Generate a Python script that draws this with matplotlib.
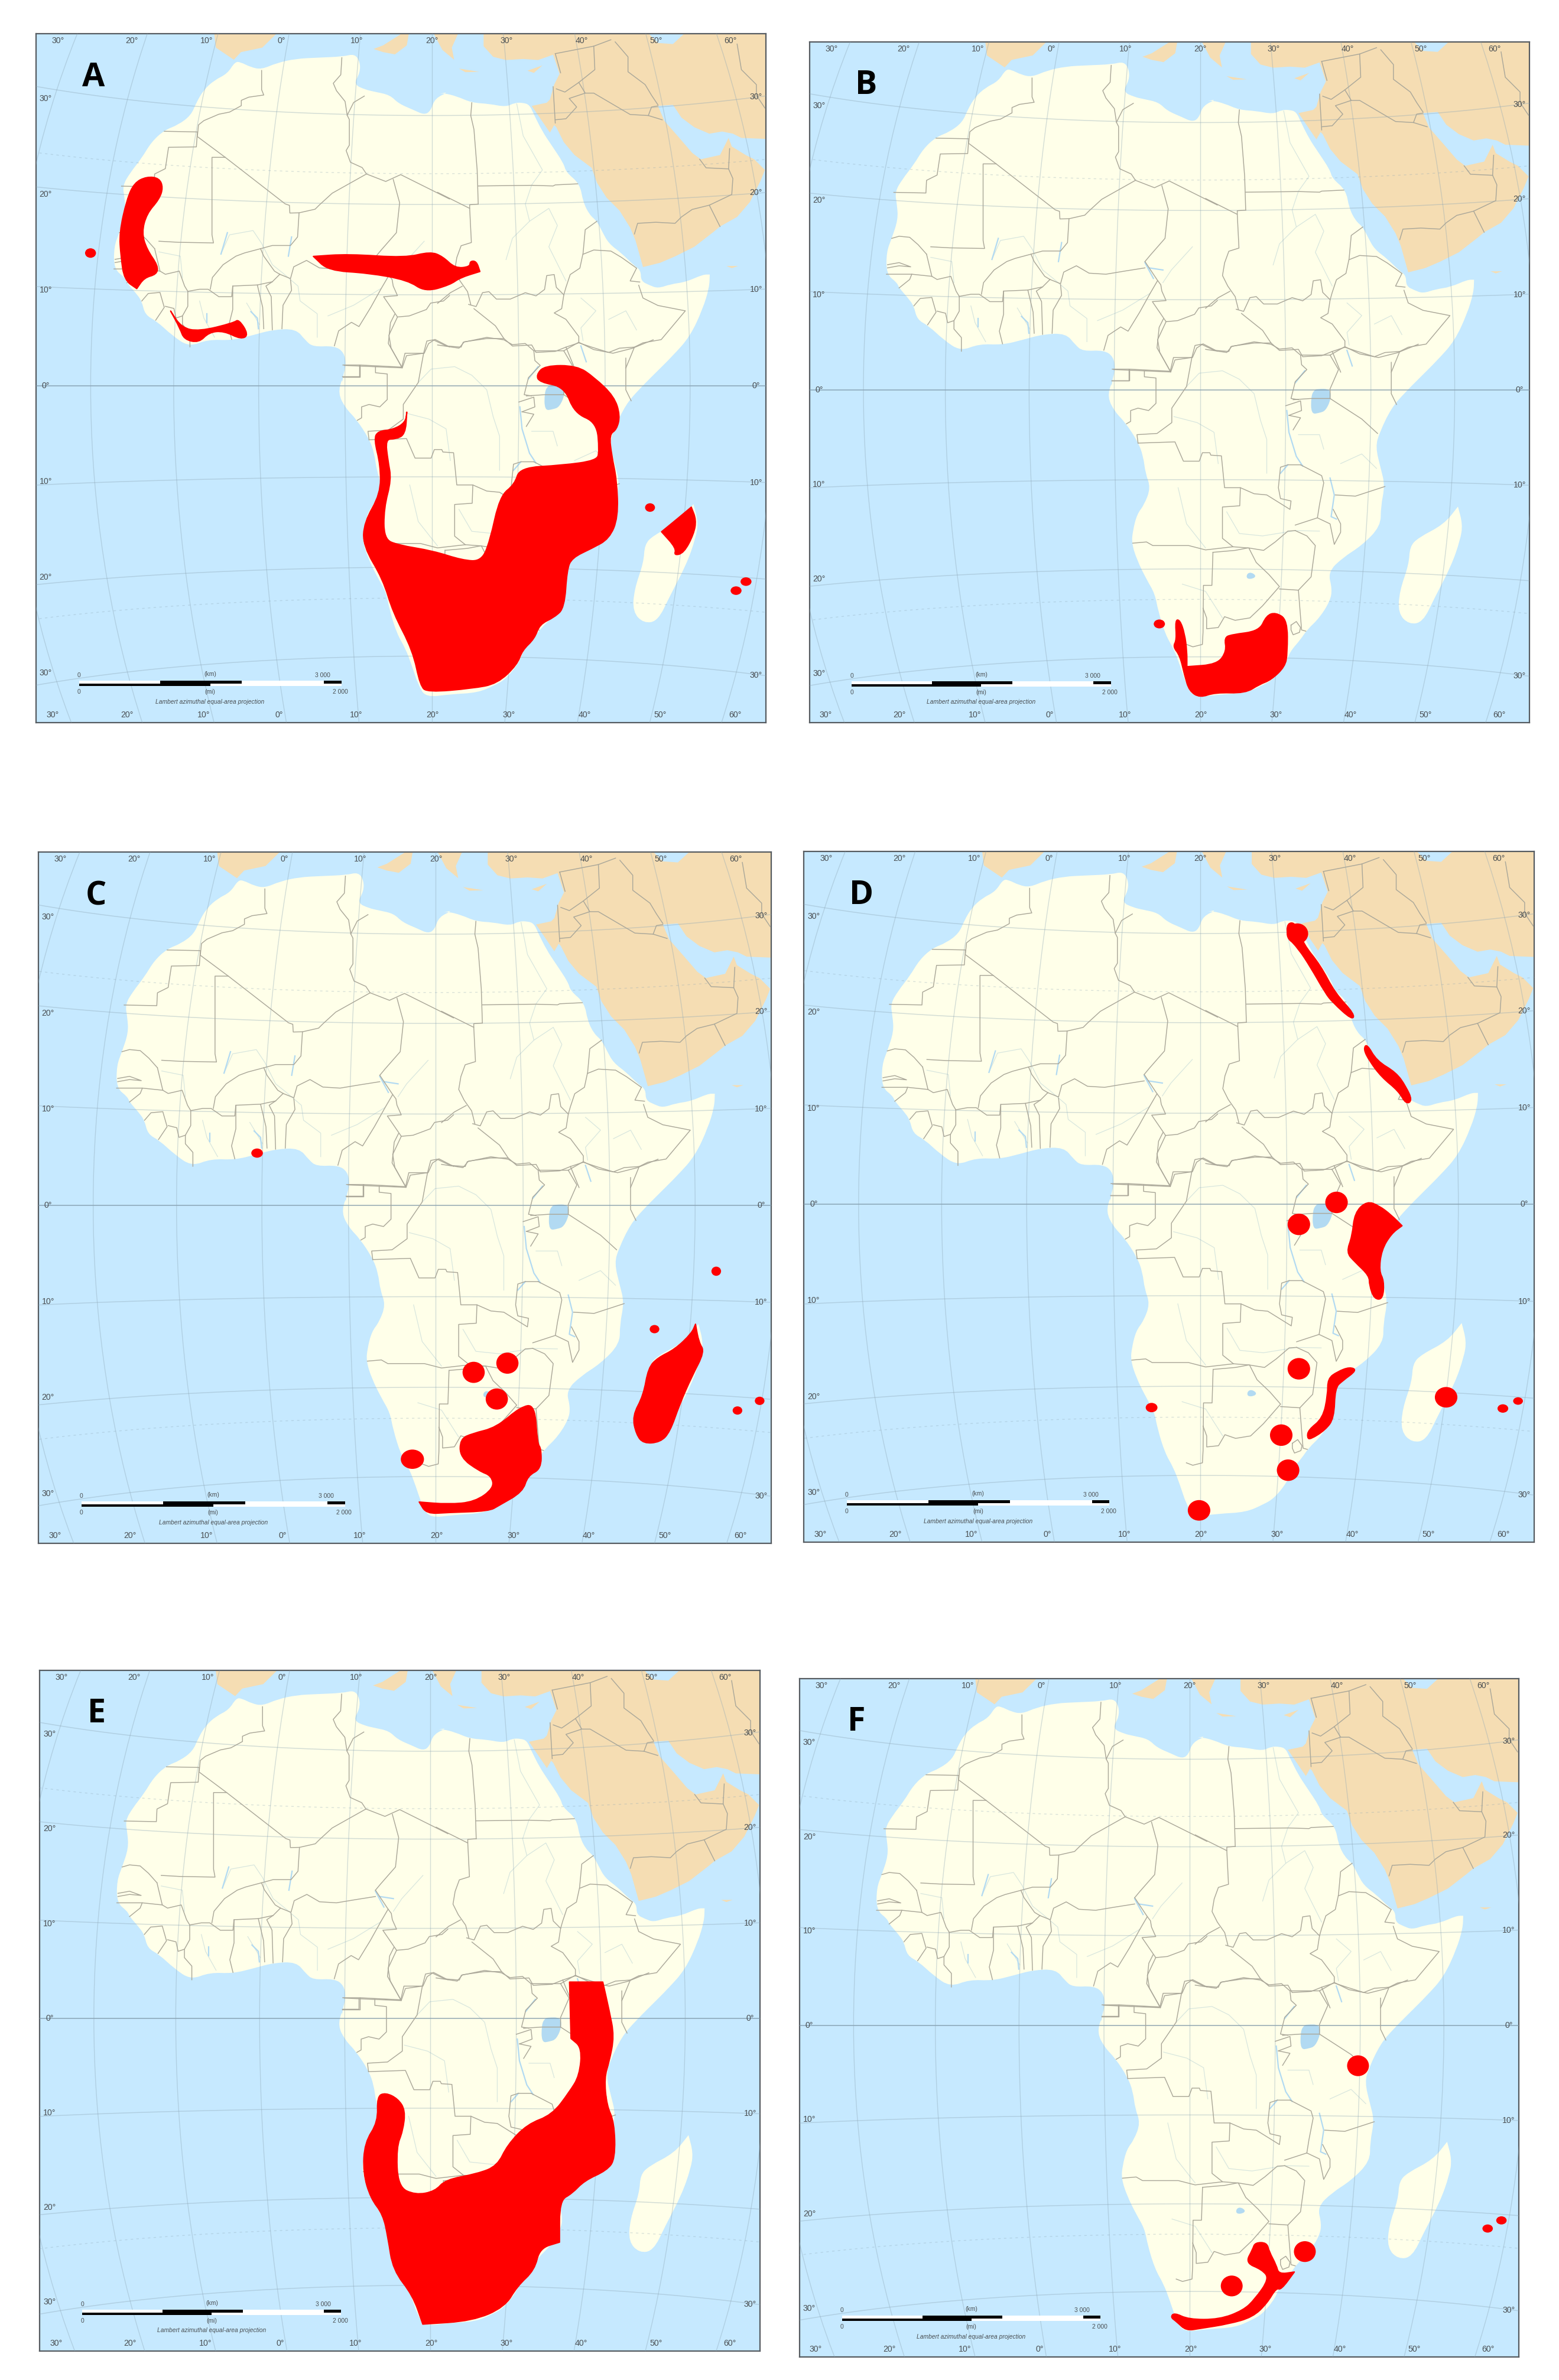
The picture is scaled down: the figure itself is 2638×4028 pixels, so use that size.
import numpy as np
import matplotlib
matplotlib.use("Agg")
import matplotlib.pyplot as plt
from matplotlib.patches import Polygon, Ellipse, Rectangle, PathPatch
from matplotlib.path import Path

W, H = 2638, 4028
SEA, LAND, ASIA, RED = "#C6E9FF", "#FFFFE9", "#F5DDB3", "#FF0000"
BORDER, RIVER, LAKE = "#ABA89A", "#D8E6DE", "#B2DAF2"

# affine factors of the three traced map sheets onto the base map units
WEST = (177, 0.4516, 53.1, 0.4746)
EAST = (860, 0.4516, 13.3, 0.4746)
SOUTH = (607, 0.4516, 637.8, 0.5424)
BASE_FRAME = (12, 1553, 14, 1546)

coast_west = [(1568,190),(1500,220),(1480,280),(1450,298),(1400,275),(1330,245),(1290,205),(1220,190),(1175,180),(1120,155),(1150,100),(1150,50),(1125,12),(1070,25),(950,30),(850,35),(760,55),(690,85),(640,75),(590,50),(565,50),(530,105),(470,135),(420,180),(385,240),(360,300),(300,345),(235,370),(175,425),(130,500),(75,570),(40,630),(50,690),(55,760),(25,850),(0,915),(0,1020),(50,1060),(60,1085),(100,1130),(130,1170),(145,1235),(200,1265),(270,1330),(350,1385),(440,1350),(550,1355),(650,1330),(740,1305),(850,1300),(895,1355),(930,1385),(1030,1380),(1075,1410),(1085,1470),(1068,1530),(1068,1568)]
coast_south = [(115,260),(95,325),(130,385),(180,430),(240,510),(265,570),(275,640),(300,700),(270,770),(235,810),(215,880),(210,930),(235,1000),(280,1080),(320,1140),(335,1210),(370,1310),(410,1370),(440,1440),(470,1520),(505,1571),(620,1558),(748,1552),(830,1520),(880,1495),(940,1430),(960,1380),(1010,1330),(1040,1290),(1100,1240),(1150,1170),(1160,1120),(1140,1050),(1210,990),(1300,940),(1390,860),(1390,780),(1410,690),(1390,620),(1365,530),(1385,470),(1440,370),(1500,310),(1568,250)]
coast_east = [(1100,1510),(1180,1420),(1240,1290),(1270,1190),(1272,1130),(1272,1130),(1240,1130),(1160,1165),(1090,1175),(1030,1195),(990,1180),(950,1160),(950,1110),(915,1085),(860,1030),(800,985),(770,930),(745,880),(710,850),(680,790),(665,705),(600,650),(590,610),(530,520),(490,460),(450,380),(430,335),(400,325),(360,325),(320,345),(240,330),(160,325),(90,295),(30,280),(0,285)]
madagascar = [(1400,1060),(1400,1060),(1410,1100),(1405,1135),(1385,1195),(1350,1265),(1325,1320),(1295,1325),(1272,1300),(1275,1250),(1295,1190),(1297,1150),(1315,1130),(1370,1100)]

arabia = [(440,340),(525,465),(545,430),(555,440),(590,510),(640,570),(720,630),(745,700),(790,770),(850,830),(900,910),(925,970),(960,1095),(1040,1075),(1110,1045),(1200,1000),(1290,930),(1320,905),(1400,860),(1460,790),(1510,690),(1530,640),(1480,590),(1440,570),(1375,530),(1360,490),(1340,530),(1320,570),(1230,590),(1190,560),(1130,490),(1060,410),(1030,340),(1100,335),(1140,395),(1200,440),(1270,470),(1330,460),(1380,470),(1420,490),(1545,495),(1545,-5),(1160,-5),(1100,50),(1030,45),(980,-5),(215,-5),(215,60),(260,110),(320,125),(400,120),(470,125),(540,100),(550,130),(570,190),(545,240),(525,310),(510,325)]
cyprus = [(420,175),(490,150),(450,185)]
crete = [(100,165),(195,180),(130,182)]
socotra = [(1350,1090),(1405,1090),(1375,1100)]
spain = [(388,10),(392,45),(430,72),(445,55),(490,45),(520,14),(525,10)]
italy = [(725,48),(745,40),(790,10),(800,10),(795,40),(770,60),(745,55)]
greece = [(850,10),(870,50),(895,72),(890,45),(905,10)]

borders_west = [
 [(690,90),(690,180),(700,205),(630,215),(595,230),(595,255),(540,285),(490,295),(420,325),(395,345),(390,395)],
 [(235,375),(390,378),(385,448),(255,450),(240,550),(190,575),(187,635),(35,632)],
 [(390,400),(520,497),(800,715),(820,722),(822,758),(865,757),(940,740),(960,720),(1020,665),(1180,575),(1270,610),(1340,578),(1568,692)],
 [(520,497),(458,497),(458,860),(465,898),(300,895),(210,890)],
 [(25,850),(60,840),(110,845),(150,880),(190,925)],
 [(1065,30),(1060,110),(1025,150),(1040,185),(1080,235),(1090,300),(1100,320),(1100,440),(1085,465),(1105,520),(1160,545),(1180,575)],
 [(1090,300),(1120,240),(1170,210)],
 [(865,757),(858,870),(825,910),(740,910),(685,925)],
 [(190,925),(215,1030),(240,1045),(305,1030),(330,1100),(345,1125)],
 [(345,1125),(400,1115),(440,1115),(490,1150),(550,1150),(555,1100),(670,1095),(740,1080),(775,1045)],
 [(450,1115),(460,1060),(510,1000),(570,960),(610,945),(685,925),(700,960),(750,1030),(775,1045)],
 [(0,1020),(120,1020),(215,1030)],
 [(5,975),(60,965),(115,985),(60,980),(5,990)],
 [(60,1085),(110,1045),(120,1020)],
 [(775,1045),(825,1065),(840,1010),(900,980),(960,1015),(1040,1020),(1130,1005),(1225,990)],
 [(825,1070),(830,1120),(790,1190),(785,1300)],
 [(740,1305),(735,1150),(710,1100),(740,1080)],
 [(670,1095),(695,1200),(700,1300)],
 [(555,1100),(555,1210),(535,1290),(550,1350)],
 [(345,1125),(345,1195),(320,1240),(320,1280),(355,1320),(355,1385)],
 [(130,1170),(160,1135),(215,1130),(235,1200),(195,1260)],
 [(240,1195),(280,1205),(290,1250),(320,1240)],
 [(1285,1050),(1250,1110),(1200,1200),(1145,1290),(1110,1270),(1050,1310),(1030,1380)],
 [(1225,960),(1285,1050),(1300,1070),(1305,1100),(1325,1145),(1260,1150),(1325,1245),(1285,1330),(1295,1390),(1345,1480)],
 [(1325,1245),(1380,1240),(1460,1210),(1480,1180),(1540,1170),(1568,1145)],
 [(1225,960),(1250,930),(1320,850),(1335,710),(1305,600)],
 [(1345,1480),(1150,1470),(1070,1470)],
 [(1150,1470),(1150,1525),(1068,1525)],
 [(1345,1480),(1360,1415),(1450,1415),(1470,1370),(1500,1350),(1568,1385)],
]
borders_east = [
 [(160,325),(155,385),(170,450),(185,640),(190,800)],
 [(190,715),(440,712),(540,715),(550,710),(655,705)],
 [(190,800),(150,803),(150,820),(0,745)],
 [(150,820),(158,980),(110,995),(90,1050),(80,1110),(105,1160),(140,1210),(155,1270)],
 [(0,1265),(60,1215),(115,1185)],
 [(145,1270),(180,1280),(210,1215),(240,1210),(275,1245),(340,1245),(410,1215),(460,1230),(500,1200),(510,1135),(545,1130),(555,1190),(590,1225)],
 [(745,880),(690,920),(680,1030),(665,1100),(620,1130),(600,1190),(590,1225),(580,1290),(545,1310),(600,1340),(660,1420),(660,1450)],
 [(680,1035),(730,1015),(810,1020),(860,1050),(930,1100)],
 [(930,1100),(900,1160),(945,1165)],
 [(940,1180),(960,1240),(1030,1275),(1158,1300),(1045,1435),(960,1450),(920,1470)],
 [(660,1450),(720,1470),(800,1495),(850,1475),(920,1470),(880,1568)],
 [(170,1290),(270,1370),(310,1430),(350,1465),(440,1460),(460,1495),(550,1490),(600,1470),(660,1450)],
 [(0,1460),(100,1475),(125,1445),(230,1430),(310,1430)],
 [(600,1470),(640,1568)],
 [(550,95),(730,60),(810,30)],
 [(730,60),(735,170),(660,230),(595,275),(555,260)],
 [(550,95),(575,185)],
 [(660,230),(690,280),(615,305),(650,345),(600,400),(550,405)],
 [(690,280),(730,280),(900,380),(985,385),(1000,345),(1030,340)],
 [(985,385),(1050,405)],
 [(830,40),(890,110),(890,180),(970,240),(1000,290),(1030,335)],
 [(1400,50),(1420,170),(1490,240),(1490,290),(1530,350)],
 [(1225,590),(1255,630),(1360,635),(1380,680),(1375,755),(1270,805),(1190,825),(1140,860),(1110,890),(1020,885),(935,890),(920,940)],
 [(1270,805),(1320,905)],
 [(1360,635),(1365,540)],
 [(540,250),(550,420)],
]
borders_south = [
 [(125,210),(395,220),(415,170),(495,160),(470,280),(400,370),(400,430),(330,475),(235,480),(240,515)],
 [(195,210),(195,255),(115,255)],
 [(270,215),(270,240),(325,245),(325,350),(290,380),(240,370),(205,380),(205,425),(185,435)],
 [(395,220),(330,120),(340,35),(360,0)],
 [(495,160),(510,110),(540,105),(600,130),(670,135),(680,115),(790,95),(870,105),(910,125),(970,120),(1010,150),(1150,150)],
 [(1010,150),(1015,190),(1040,210),(985,260),(965,330),(1000,335)],
 [(940,360),(1010,340),(1015,380),(955,400)],
 [(955,400),(1010,410),(975,460)],
 [(975,335),(1060,330),(1150,330),(1300,415),(1375,475)],
 [(1150,150),(1190,210),(1150,290),(1150,330)],
 [(1150,150),(1220,115),(1290,145),(1380,160),(1470,140),(1568,105)],
 [(1440,180),(1440,310),(1465,355)],
 [(240,515),(415,510),(455,590),(530,590),(545,555),(580,555),(585,565),(635,568),(650,700),(725,700),(790,725),(850,730),(905,760),(960,790),(965,755),(915,745),(905,700),(915,615),(950,605),(1010,605)],
 [(725,700),(722,775),(640,780),(640,910),(690,945)],
 [(215,930),(280,925),(310,940),(480,940),(560,958),(690,945),(765,950),(835,960),(890,925),(950,880),(985,878)],
 [(595,968),(700,960),(760,950)],
 [(595,968),(590,1105),(550,1105),(548,1300),(545,1350),(500,1360),(470,1350)],
 [(765,950),(800,1010),(860,1060),(910,1110),(830,1190),(770,1240),(700,1250),(650,1235),(620,1280),(565,1285),(565,1240),(548,1200)],
 [(910,1120),(1000,1125),(1060,1070),(1080,940),(1040,900),(985,878)],
 [(985,855),(1090,825),(1100,770),(1120,680),(1110,650),(1010,605)],
 [(1090,825),(1150,850),(1170,935),(1200,885),(1200,850),(1165,790)],
 [(1175,730),(1270,735),(1410,695)],
 [(1000,1125),(1015,1290),(1035,1295)],
 [(965,1270),(990,1255),(1010,1280),(1005,1300),(975,1310),(965,1290),(965,1270)],
]
rivers_west = [
 [(500,950),(540,860),(650,840),(690,900),(740,1000),(790,1040),(860,1100),(870,1170),(950,1230),(950,1340)],
 [(1000,1240),(1120,1190),(1250,1110)],
 [(210,940),(310,960),(320,1060)],
 [(400,1170),(420,1250),(470,1340)],
 [(620,1180),(680,1280)],
 [(1450,890),(1350,1000),(1310,1060)],
]
rivers_east = [
 [(370,330),(400,480),(490,640),(440,710),(410,800),(430,880),(350,960),(320,1060)],
 [(430,880),(520,820),(560,900),(520,1000),(600,1160)],
 [(670,1240),(740,1300),(670,1380),(680,1440)],
 [(800,1340),(880,1300),(930,1390)],
]
rivers_south = [
 [(470,280),(530,225),(640,215),(720,250),(790,310),(820,420),(850,500),(850,640)],
 [(410,405),(520,430),(600,470),(620,600)],
 [(660,800),(720,890),(830,900),(985,878),(1100,880)],
 [(430,700),(470,850),(560,950)],
 [(1000,480),(1100,480),(1120,540)],
 [(450,1100),(560,1130),(640,1240)],
 [(1200,600),(1300,560),(1370,620)],
]
lakes_south = [
 [(1060,320),(1075,295),(1090,290),(1150,290),(1155,330),(1130,380),(1100,390),(1060,395)],
 [(755,1058),(775,1050),(800,1065),(785,1078),(755,1078)],
]
lake_lines_south = [
 [(945,380),(955,470),(990,570),(1020,610)],
 [(1150,660),(1170,730),(1155,820),(1180,830)],
 [(1030,215),(985,265)],
 [(1230,130),(1255,195)],
 [(915,640),(950,605)],
]
lake_lines_west = [
 [(1225,965),(1265,1040)],
 [(1245,990),(1310,1000)],
 [(530,850),(500,950)],
 [(830,870),(815,960)],
 [(640,1220),(670,1250),(675,1300)],
 [(435,1230),(435,1270)],
]

grat_lats = [-30, -20, -10, 0, 10, 20, 30]
tropics = [-23.44, 23.44]
grat_lons = [-30, -20, -10, 0, 10, 20, 30, 40, 50, 60]
top_lon_labels = ["30°", "20°", "10°", "0°", "10°", "20°", "30°", "40°", "50°", "60°"]
top_label_x = [59, 214, 372, 530, 689, 848, 1006, 1164, 1321, 1478]
bottom_label_x = [47, 205, 366, 526, 688, 850, 1011, 1170, 1330, 1488]
left_lat_labels = ["30°", "20°", "10°", "0°", "10°", "20°", "30°"]
left_label_y = [158, 371, 584, 797, 1010, 1223, 1436]
right_lat_labels = ["30°", "20°", "10°", "0°", "10°", "30°"]
right_label_y = [155, 368, 583, 797, 1012, 1441]

bar_km_edges = [103, 275, 447, 620, 657]
bar_mi_edges = [103, 380, 657]
bar_km_colors = ["white", "black", "white", "black"]
bar_mi_colors = ["black", "white"]

panels = ["A", "B", "C", "D", "E", "F"]
pixel_frames = {"A": (60.6, 1296, 57, 1223), "B": (1369.5, 2588, 70.5, 1223),
                "C": (64.5, 1305, 1442, 2612), "D": (1360, 2596, 1441, 2610),
                "E": (67.3, 1286, 2827, 3979), "F": (1353, 2569.5, 2841, 3989)}
trace_frames = {"A": (72, 1540, 71, 1522), "B": (12, 1553, 14, 1546),
                "C": (30, 1550, 28, 1532), "D": (24, 1517, 27, 1505),
                "E": (80, 1528, 35, 1505), "F": (16, 1530, 28, 1528)}

# repeated vertices keep a corner sharp when the outline is drawn with curves
ranges = {
 "A": [[(270,385),(295,372),(320,375),(328,395),(320,420),(295,450),(285,490),(295,525),(318,560),(315,578),(290,585),(275,608),(275,608),(250,590),(243,540),(240,490),(255,420)],
       [(343,655),(343,655),(365,690),(400,698),(470,680),(480,672),(500,705),(485,715),(450,697),(420,700),(400,722),(370,715),(362,692)],
       [(630,540),(630,540),(700,535),(815,543),(865,530),(890,540),(915,565),(945,562),(945,550),(958,550),(965,572),(965,572),(925,585),(905,600),(855,615),(820,590),(740,575),(660,570)],
       [(1095,770),(1160,770),(1195,795),(1235,835),(1247,875),(1240,905),(1225,915),(1230,960),(1240,1010),(1243,1090),(1225,1135),(1190,1155),(1150,1175),(1140,1200),(1135,1280),(1115,1300),(1085,1315),(1075,1345),(1050,1370),(1040,1400),(1000,1440),(950,1450),(860,1458),(845,1445),(830,1370),(790,1290),(770,1220),(730,1150),(732,1100),(765,1040),(765,980),(752,925),(760,908),(790,905),(815,890),(818,868),(818,868),(815,915),(795,925),(775,925),(780,970),(787,1010),(772,1070),(772,1135),(800,1148),(870,1160),(930,1180),(968,1182),(985,1140),(1005,1045),(1035,1020),(1045,985),(1130,980),(1200,970),(1205,950),(1200,890),(1155,870),(1135,815),(1085,805),(1078,790)],
       [(1330,1120),(1330,1120),(1365,1090),(1390,1068),(1390,1068),(1400,1095),(1395,1125),(1375,1165),(1355,1170),(1360,1155)]],
 "B": [[(795,1315),(805,1315),(815,1345),(820,1385),(820,1420),(820,1420),(885,1415),(905,1385),(900,1355),(915,1348),(975,1340),(990,1305),(1010,1298),(1035,1315),(1035,1390),(1030,1420),(1000,1450),(975,1460),(945,1480),(880,1478),(848,1490),(825,1475),(815,1440),(805,1395),(790,1375),(798,1360)]],
 "C": [[(1030,1235),(1060,1230),(1065,1315),(1073,1325),(1073,1370),(1045,1385),(1035,1420),(985,1450),(965,1462),(880,1465),(835,1468),(820,1442),(820,1442),(880,1447),(935,1442),(975,1412),(970,1385),(945,1375),(905,1345),(905,1305),(930,1293),(980,1280)],
       [(1393,1055),(1393,1055),(1400,1095),(1412,1115),(1385,1170),(1360,1230),(1340,1290),(1320,1312),(1285,1315),(1270,1295),(1262,1255),(1285,1210),(1295,1150),(1315,1128),(1350,1110),(1385,1075)]],
 "D": [[(1012,180),(1030,180),(1045,225),(1080,270),(1110,330),(1150,375),(1145,388),(1105,350),(1090,330),(1060,275),(1035,235),(1012,210)],
       [(1175,438),(1195,475),(1235,500),(1255,530),(1268,560),(1255,568),(1240,540),(1205,510),(1180,475),(1168,450)],
       [(1175,775),(1200,785),(1225,805),(1247,828),(1247,828),(1225,845),(1205,880),(1200,925),(1210,945),(1208,985),(1190,985),(1180,955),(1180,935),(1150,905),(1133,885),(1145,850),(1150,800)],
       [(1140,1130),(1155,1137),(1125,1160),(1110,1175),(1108,1240),(1090,1265),(1060,1285),(1053,1282),(1055,1265),(1085,1240),(1095,1190),(1095,1155),(1115,1140)]],
 "E": [[(1145,708),(1145,708),(1212,708),(1212,708),(1225,770),(1235,825),(1225,880),(1215,915),(1220,975),(1235,1010),(1237,1090),(1220,1115),(1175,1137),(1150,1165),(1125,1180),(1125,1270),(1125,1270),(1085,1283),(1075,1330),(1040,1365),(1015,1410),(950,1440),(850,1447),(850,1447),(830,1385),(790,1330),(780,1260),(770,1210),(745,1175),(730,1120),(733,1055),(760,1010),(758,955),(775,947),(800,960),(815,985),(810,1030),(797,1065),(800,1150),(835,1168),(875,1160),(895,1135),(960,1122),(1000,1105),(1020,1060),(1060,1015),(1110,995),(1145,945),(1165,910),(1170,850),(1148,830),(1148,830)]],
 "F": [[(975,1275),(1000,1275),(1005,1295),(1020,1325),(1025,1345),(1058,1340),(1058,1340),(1030,1380),(1020,1375),(1000,1410),(970,1440),(920,1455),(860,1465),(830,1470),(810,1450),(797,1440),(805,1430),(835,1445),(900,1445),(950,1425),(975,1400),(1005,1355),(990,1335),(955,1320),(970,1290)]],
}
# centre x, centre y, half width, half height in each panel's traced sheet
spots = {
 "A": [(182,533,11,10),(1307,1069,10,9),(1480,1244,11,9),(1500,1225,11,9)],
 "B": [(761,1324,12,10)],
 "C": [(484,683,12,10),(933,1160,23,23),(1003,1140,23,23),(981,1218,23,23),(806,1349,24,21),(1436,940,10,10),(1308,1066,10,9),(1480,1243,10,9),(1526,1222,10,9)],
 "D": [(1033,203,22,22),(1113,778,23,23),(1036,825,23,23),(1036,1134,23,23),(1000,1276,23,23),(1014,1351,23,23),(832,1437,23,22),(1337,1195,23,22),(735,1217,12,10),(1453,1219,11,9),(1484,1203,10,8)],
 "E": [],
 "F": [(1192,884,23,23),(1080,1295,23,23),(926,1371,23,23),(1465,1244,11,9),(1494,1226,11,9)],
}


def sheet(points, factors):
    x0, sx, y0, sy = factors
    a = np.asarray(points, float)
    return np.column_stack([x0 + a[:, 0] * sx, y0 + a[:, 1] * sy])


def project(lon, lat):
    """Lambert azimuthal equal-area about 20E, 0N, stretched as in the source image."""
    lam = np.radians(np.asarray(lon, float) - 20)
    phi = np.radians(np.asarray(lat, float))
    k = np.sqrt(2 / (1 + np.cos(phi) * np.cos(lam)))
    return 848 + 1053 * k * np.cos(phi) * np.sin(lam), 797 - 1161 * k * np.sin(phi)


def curved(points):
    """Closed outline drawn as quadratic curves through the edge midpoints."""
    p = np.asarray(points, float)
    mids = (p + np.roll(p, -1, axis=0)) / 2
    verts = [mids[-1]]
    codes = [Path.MOVETO]
    for v, m in zip(p, mids):
        verts += [v, m]
        codes += [Path.CURVE3, Path.CURVE3]
    return Path(np.array(verts), codes)


africa = np.vstack([sheet(coast_west, WEST), sheet(coast_south, SOUTH), sheet(coast_east, EAST)])
tan_shapes = [sheet(arabia, EAST), sheet(cyprus, EAST), sheet(crete, EAST), sheet(socotra, EAST),
              np.array(spain, float), np.array(italy, float), np.array(greece, float)]
border_lines = ([sheet(l, WEST) for l in borders_west] + [sheet(l, EAST) for l in borders_east]
                + [sheet(l, SOUTH) for l in borders_south])
river_lines = ([sheet(l, WEST) for l in rivers_west] + [sheet(l, EAST) for l in rivers_east]
               + [sheet(l, SOUTH) for l in rivers_south])
lake_lines = [sheet(l, SOUTH) for l in lake_lines_south] + [sheet(l, WEST) for l in lake_lines_west]
lake_fills = [sheet(l, SOUTH) for l in lakes_south]

fig = plt.figure(figsize=(W / 100, H / 100), dpi=100, facecolor="white")
plt.rcParams["font.family"] = ["Liberation Sans", "DejaVu Sans"]


def frame_axes(name, zorder):
    x0, x1, y0, y1 = pixel_frames[name]
    ax = fig.add_axes([x0 / W, 1 - y1 / H, (x1 - x0) / W, (y1 - y0) / H], zorder=zorder)
    ax.set_xticks([]); ax.set_yticks([])
    return ax


for name in panels:
    ax = frame_axes(name, 1)
    ax.set_facecolor(SEA)
    ax.set_xlim(BASE_FRAME[0], BASE_FRAME[1]); ax.set_ylim(BASE_FRAME[3], BASE_FRAME[2])
    for s in ax.spines.values():
        s.set_color("#555b60"); s.set_linewidth(1.6)

    ax.add_patch(PathPatch(curved(africa), fc=LAND, ec="none", zorder=2))
    ax.add_patch(PathPatch(curved(madagascar), fc=LAND, ec="none", zorder=2))
    for shape in tan_shapes:
        ax.add_patch(Polygon(shape, closed=True, fc=ASIA, ec="none", zorder=2))
    for line in river_lines:
        ax.plot(line[:, 0], line[:, 1], color=RIVER, lw=0.9, zorder=3)
    for shape in lake_fills:
        ax.add_patch(PathPatch(curved(shape), fc=LAKE, ec="none", zorder=3))
    for line in lake_lines:
        ax.plot(line[:, 0], line[:, 1], color=LAKE, lw=1.6, zorder=3)

    sweep = np.arange(-60, 101, 2.0)
    for lat in grat_lats:
        gx, gy = project(sweep, np.full_like(sweep, lat))
        ax.plot(gx, gy, color="#7f98a8" if lat == 0 else "#8da6b5",
                alpha=0.85 if lat == 0 else 0.38, lw=1.1, zorder=4)
    for lat in tropics:
        gx, gy = project(sweep, np.full_like(sweep, lat))
        ax.plot(gx, gy, color="#8da6b5", alpha=0.32, lw=1.0, ls=(0, (3, 4)), zorder=4)
    rise = np.arange(-45, 46, 2.0)
    for lon in grat_lons:
        gx, gy = project(np.full_like(rise, lon), rise)
        ax.plot(gx, gy, color="#8da6b5", alpha=0.38, lw=1.0, zorder=4)

    for line in border_lines:
        ax.plot(line[:, 0], line[:, 1], color=BORDER, lw=1.05, solid_joinstyle="round", zorder=5)

    label_kw = dict(ha="center", va="center", fontsize=10.2, color="#4a4f52", zorder=6)
    for t, x in zip(top_lon_labels, top_label_x):
        ax.text(x, 30, t, **label_kw)
    for t, x in zip(top_lon_labels, bottom_label_x):
        ax.text(x, 1529, t, **label_kw)
    for t, y in zip(left_lat_labels, left_label_y):
        ax.text(33, y, t, **label_kw)
    for t, y in zip(right_lat_labels, right_label_y):
        ax.text(1532, y, t, **label_kw)

    for a, b, c in zip(bar_km_edges[:-1], bar_km_edges[1:], bar_km_colors):
        ax.add_patch(Rectangle((a, 1453), b - a, 6, fc=c, ec="none", zorder=6))
    for a, b, c in zip(bar_mi_edges[:-1], bar_mi_edges[1:], bar_mi_colors):
        ax.add_patch(Rectangle((a, 1459), b - a, 6, fc=c, ec="none", zorder=6))
    small = dict(ha="center", va="center", fontsize=7.4, color="#4a4f52", zorder=6)
    ax.text(103, 1441, "0", **small)
    ax.text(380, 1438, "(km)", **small)
    ax.text(618, 1441, "3 000", **small)
    ax.text(103, 1478, "0", **small)
    ax.text(380, 1478, "(mi)", **small)
    ax.text(655, 1478, "2 000", **small)
    ax.text(380, 1500, "Lambert azimuthal equal-area projection", style="italic", **small)

    ax.text(134, 112, name, ha="center", va="center", fontsize=40, fontweight="bold",
            family=["Open Sans", "DejaVu Sans"], color="black", zorder=7)

    over = frame_axes(name, 2)
    over.patch.set_visible(False)
    for s in over.spines.values():
        s.set_visible(False)
    fx0, fx1, fy0, fy1 = trace_frames[name]
    over.set_xlim(fx0, fx1); over.set_ylim(fy1, fy0)
    for shape in ranges[name]:
        over.add_patch(PathPatch(curved(shape), fc=RED, ec=RED, lw=1.5, joinstyle="round"))
    for cx, cy, rx, ry in spots[name]:
        over.add_patch(Ellipse((cx, cy), 2 * rx, 2 * ry, fc=RED, ec="none"))

fig.savefig("out.png", dpi=100, facecolor="white")
